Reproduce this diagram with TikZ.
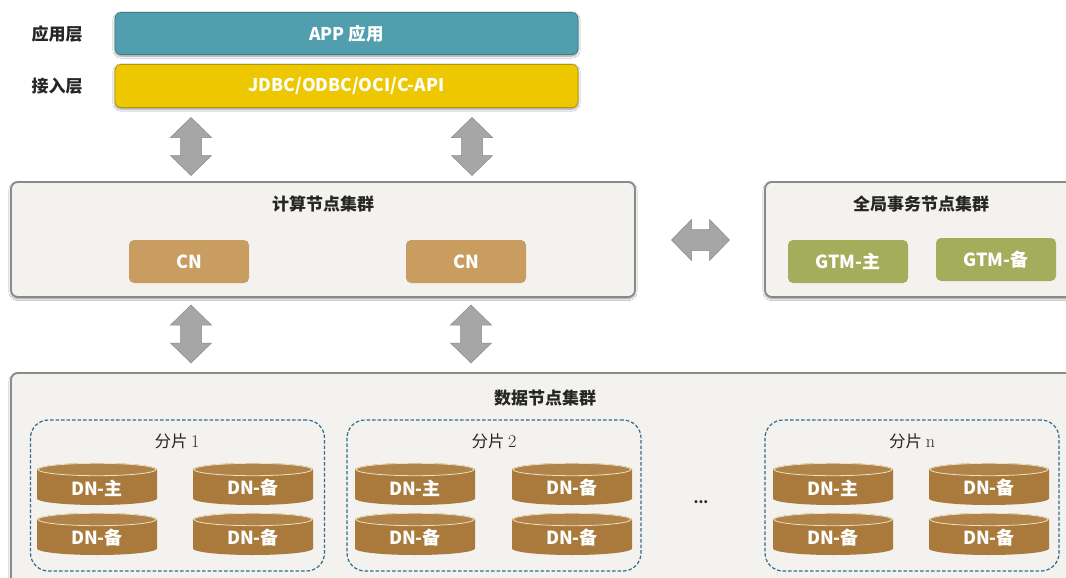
\documentclass[tikz,border=0pt]{standalone}
\usepackage{fontspec}
\setmainfont{Noto Sans CJK SC}
\newfontfamily\lmfont{Latin Modern Roman}
\usetikzlibrary{shadows.blur}
\definecolor{appc}{HTML}{519EAF}
\definecolor{appd}{HTML}{3D7E8E}
\definecolor{jdbcc}{HTML}{EDC800}
\definecolor{jdbcd}{HTML}{B39600}
\definecolor{clfill}{HTML}{F4F2EE}
\definecolor{cldraw}{HTML}{8A8A8A}
\definecolor{cnc}{HTML}{C99C5F}
\definecolor{gtmc}{HTML}{A4AD5B}
\definecolor{dnc}{HTML}{A97A3C}
\definecolor{dntop}{HTML}{B0834A}
\definecolor{dnedge}{HTML}{F1E0BE}
\definecolor{shardc}{HTML}{2F6C8E}
\definecolor{arrc}{HTML}{A6A6A6}
\definecolor{arrd}{HTML}{8A8A8A}
\definecolor{titlec}{HTML}{262626}
\begin{document}
\begin{tikzpicture}[x=1pt,y=-1pt,
  sh/.style={blur shadow={shadow xshift=0pt,shadow yshift=-1.5pt,shadow blur steps=6,shadow opacity=45}},
  layerbox/.style={rectangle,rounded corners=6pt,minimum width=463pt,line width=0.8pt,sh,
    text=white,font=\bfseries\fontsize{17.5}{19}\selectfont},
  sidelabel/.style={text=titlec,font=\bfseries\fontsize{17}{19}\selectfont},
  cluster/.style={rectangle,rounded corners=7pt,fill=clfill,draw=cldraw,line width=1.8pt,sh},
  cltitle/.style={text=titlec,font=\bfseries\fontsize{17}{19}\selectfont},
  smallbox/.style={rectangle,rounded corners=5pt,minimum width=120pt,minimum height=43pt,
    text=white,font=\bfseries\fontsize{18}{20}\selectfont},
  shard/.style={rectangle,rounded corners=18pt,draw=shardc,dash pattern=on 3.5pt off 2pt,line width=1.2pt,
    minimum width=294pt,minimum height=151pt},
  shardlabel/.style={text=titlec,font=\fontsize{16.5}{18}\selectfont},
  dntext/.style={text=white,font=\bfseries\fontsize{18}{20}\selectfont},
  arrowfill/.style={fill=arrc,draw=arrd,line width=0.5pt},
  pics/vdarrow/.style={code={
    \filldraw[arrowfill] (0,-29)--(20.5,-9)--(10.5,-9)--(10.5,9)--(20.5,9)--(0,29)
      --(-20.5,9)--(-10.5,9)--(-10.5,-9)--(-20.5,-9)--cycle;}},
  pics/dbcyl/.style={code={
    \fill[dnc] (-60,-14.5) -- (-60,14.5) arc[start angle=180,end angle=0,x radius=60,y radius=6.5]
      -- (60,-14.5) arc[start angle=0,end angle=-180,x radius=60,y radius=6.5] -- cycle;
    \filldraw[fill=dntop,draw=dnedge,line width=0.8pt] (0,-14.5) ellipse[x radius=59,y radius=6.2];
    \node[dntext] (-lbl) at (0,4) {#1};}}
]
\useasboundingbox (0,0) rectangle (1066,578);
\clip (0,0) rectangle (1066,578);
\fill[white] (0,0) rectangle (1066,578);

% top layers
\node[sidelabel] (l1) at (57,34) {应用层};
\node[sidelabel] (l2) at (57,86) {接入层};
\node[layerbox,fill=appc,draw=appd,minimum height=42pt] (app) at (346.5,33.5) {APP 应用};
\node[layerbox,fill=jdbcc,draw=jdbcd,minimum height=43pt] (jdbc) at (346.5,86) {JDBC/ODBC/OCI/C-API};

% arrows between access layer and compute cluster
\pic at (191,146.5) {vdarrow};
\pic at (472,146.5) {vdarrow};

% compute cluster
\node[cluster,minimum width=624pt,minimum height=115pt] (cc) at (323,239.5) {};
\node[cltitle] (cct) at (323,204) {计算节点集群};
\node[smallbox,fill=cnc] (cn1) at (189,261.5) {CN};
\node[smallbox,fill=cnc] (cn2) at (466,261.5) {CN};

% horizontal arrow
\pic[rotate=90] at (700.5,240) {vdarrow};

% GTM cluster
\node[cluster,minimum width=325pt,minimum height=115pt] (gc) at (927.5,239.5) {};
\node[cltitle] (gct) at (921,204) {全局事务节点集群};
\node[smallbox,fill=gtmc] (gtm1) at (848,261.5) {GTM-主};
\node[smallbox,fill=gtmc] (gtm2) at (996,259.5) {GTM-备};

% arrows between compute and data
\pic at (191,334) {vdarrow};
\pic at (471,334) {vdarrow};

% data cluster
\node[cluster,minimum width=1079pt,minimum height=227pt] (dc) at (550.5,486.5) {};
\node[cltitle] (dct) at (545,398) {数据节点集群};

% shards
\node[shard] (s1) at (177.5,495.5) {};
\node[shard] (s2) at (494,495.5) {};
\node[shard] (sn) at (912,495.5) {};
\node[shardlabel] (s1l) at (177,441) {分片 {\lmfont\fontsize{18}{20}\selectfont 1}};
\node[shardlabel] (s2l) at (494,441) {分片 {\lmfont\fontsize{18}{20}\selectfont 2}};
\node[shardlabel] (snl) at (912,441) {分片 {\lmfont\fontsize{18}{20}\selectfont n}};
\node[text=titlec,font=\bfseries\fontsize{14}{16}\selectfont] (dots) at (701,502) {...};

% data nodes
\pic (a1) at (97,484) {dbcyl=DN-主};
\pic (a2) at (253,484) {dbcyl=DN-备};
\pic (a3) at (97,534) {dbcyl=DN-备};
\pic (a4) at (253,534) {dbcyl=DN-备};
\pic (b1) at (415,484) {dbcyl=DN-主};
\pic (b2) at (572,484) {dbcyl=DN-备};
\pic (b3) at (415,534) {dbcyl=DN-备};
\pic (b4) at (572,534) {dbcyl=DN-备};
\pic (c1) at (833,484) {dbcyl=DN-主};
\pic (c2) at (989,484) {dbcyl=DN-备};
\pic (c3) at (833,534) {dbcyl=DN-备};
\pic (c4) at (989,534) {dbcyl=DN-备};
\end{tikzpicture}
\end{document}
